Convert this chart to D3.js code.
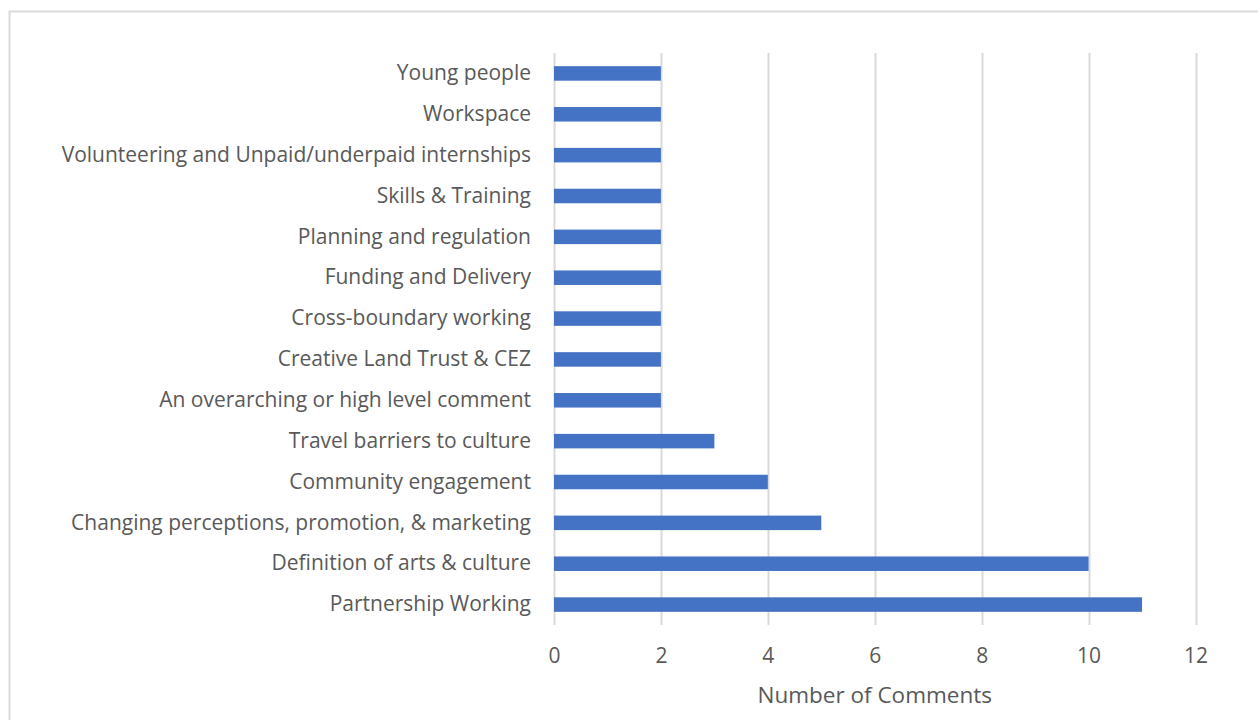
<!DOCTYPE html>
<html>
<head>
<meta charset="utf-8">
<script src="https://cdn.jsdelivr.net/npm/d3@7"></script>
<style>
  html, body { margin: 0; padding: 0; background: #fff; }
  svg { display: block; }
  text { font-family: "Open Sans", "Noto Sans", sans-serif; fill: #595959; }
</style>
</head>
<body>
<svg id="chart" width="1258" height="720"></svg>
<script>
// Themes raised in comments, listed top to bottom
const categories = [
  "Young people",
  "Workspace",
  "Volunteering and Unpaid/underpaid internships",
  "Skills & Training",
  "Planning and regulation",
  "Funding and Delivery",
  "Cross-boundary working",
  "Creative Land Trust & CEZ",
  "An overarching or high level comment",
  "Travel barriers to culture",
  "Community engagement",
  "Changing perceptions, promotion, & marketing",
  "Definition of arts & culture",
  "Partnership Working"
];
const comments = [2, 2, 2, 2, 2, 2, 2, 2, 2, 3, 4, 5, 10, 11];
const xTicks = [0, 2, 4, 6, 8, 10, 12];
const xTitle = "Number of Comments";

const svg = d3.select("#chart");

// outer chart frame
svg.append("rect")
  .attr("x", 9.5).attr("y", 11.5)
  .attr("width", 1258).attr("height", 720)
  .attr("fill", "none")
  .attr("stroke", "#d9d9d9")
  .attr("stroke-width", 2);

const plot = { left: 554, right: 1195.5, top: 53, bottom: 625 };

const x = d3.scaleLinear().domain([0, 12]).range([plot.left, plot.right]);
const y = d3.scaleBand()
  .domain(categories)
  .range([plot.top, plot.bottom])
  .paddingInner(0.645)
  .paddingOuter(0.3225);

// vertical gridlines
svg.append("g")
  .selectAll("line")
  .data(xTicks)
  .join("line")
  .attr("x1", d => Math.round(x(d)) + 0.5)
  .attr("x2", d => Math.round(x(d)) + 0.5)
  .attr("y1", plot.top)
  .attr("y2", plot.bottom)
  .attr("stroke", "#d9d9d9")
  .attr("stroke-width", 2);

// bars
svg.append("g")
  .selectAll("rect")
  .data(comments)
  .join("rect")
  .attr("x", x(0))
  .attr("y", (d, i) => y(categories[i]))
  .attr("width", d => x(d) - x(0))
  .attr("height", y.bandwidth())
  .attr("fill", "#4472c4");

// category axis labels
const yAxis = d3.axisLeft(y).tickSize(0).tickPadding(23);
const gy = svg.append("g")
  .attr("transform", `translate(${plot.left},0)`)
  .call(yAxis);
gy.select(".domain").remove();
gy.selectAll("text")
  .attr("font-size", 21)
  .attr("font-family", null)
  .style("fill", "#595959");

// value axis labels
const xAxis = d3.axisBottom(x).tickValues(xTicks).tickSize(0).tickPadding(23);
const gx = svg.append("g")
  .attr("transform", `translate(0,${plot.bottom})`)
  .call(xAxis);
gx.select(".domain").remove();
gx.selectAll("text")
  .attr("font-size", 21)
  .attr("font-family", null)
  .style("fill", "#595959");

// axis title
svg.append("text")
  .attr("x", (plot.left + plot.right) / 2)
  .attr("y", 703)
  .attr("text-anchor", "middle")
  .attr("font-size", 22.5)
  .text(xTitle);
</script>
</body>
</html>
